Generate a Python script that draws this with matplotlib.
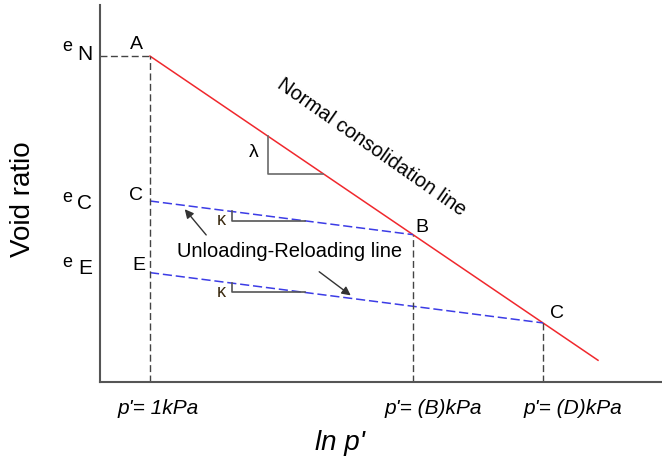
import matplotlib
matplotlib.use("Agg")
import matplotlib.pyplot as plt
import numpy as np

plt.rcParams['font.family'] = ['Liberation Sans', 'DejaVu Sans']

# ln p' positions of the three pressure states (p' = 1, B, D kPa)
lnp = [0.0, 2.63, 3.93]
tick_labels = ["p'= 1kPa", "p'= (B)kPa", "p'= (D)kPa"]
tick_shift = [0.08, 0.20, 0.30]
lnp_ncl_end = 4.48

# slopes of the normal consolidation line and the unloading-reloading lines
e_N = 3.26
lam = 0.679
kappa = 0.128

# void ratios along the NCL and on the swelling lines back at p' = 1kPa
e_B = e_N - lam * lnp[1]
e_D = e_N - lam * lnp[2]
e_C = e_B + kappa * lnp[1]
e_E = e_D + kappa * lnp[2]

fig = plt.figure(figsize=(6.62, 4.62), dpi=100)
ax = fig.add_axes([0.151, 0.173, 0.849, 0.816])
ax.set_xlim(-0.5, 5.12)
ax.set_ylim(0, 3.77)

# normal consolidation line
x_ncl = np.array([lnp[0], lnp_ncl_end])
ax.plot(x_ncl, e_N - lam * x_ncl, color='#f0282d', lw=1.1)

# unloading-reloading lines
ax.plot([lnp[0], lnp[1]], [e_C, e_B], color='#3c3ce6', lw=1.1, ls=(0, (6, 2.5)))
ax.plot([lnp[0], lnp[2]], [e_E, e_D], color='#3c3ce6', lw=1.1, ls=(0, (6, 2.5)))

# guide lines down to the axis
gd = dict(color='#444444', lw=1.0, ls=(0, (5, 2.5)))
ax.plot([-0.5, lnp[0]], [e_N, e_N], **gd)
ax.plot([lnp[0], lnp[0]], [0, e_N], **gd)
ax.plot([lnp[1], lnp[1]], [0, e_B], **gd)
ax.plot([lnp[2], lnp[2]], [0, e_D], **gd)

# slope triangles
tri = dict(color='#6a6a6a', lw=1.2)
x0, x1 = 1.18, 1.73
ax.plot([x0, x0, x1], [e_N - lam * x0, e_N - lam * x1, e_N - lam * x1], **tri)
ax.text(x0 - 0.14, e_N - lam * (x0 + x1) / 2 + 0.02, "λ", fontsize=14,
        ha='center', va='center')
k0, k1 = 0.82, 1.55
for e0 in [e_C, e_E]:
    ax.plot([k0, k0, k1], [e0 - kappa * k0, e0 - kappa * k1, e0 - kappa * k1],
            color='#555555', lw=1.2)
    ax.text(k0 - 0.105, e0 - kappa * k1, "κ", fontsize=13,
            ha='center', va='center', color='#3a2a10')

# point labels
lab = dict(fontsize=14, ha='center', va='center')
ax.text(-0.14, 3.38, "A", **lab)
ax.text(-0.135, 1.87, "C", **lab)
ax.text(-0.115, 1.165, "E", **lab)
ax.text(2.72, 1.55, "B", **lab)
ax.text(4.07, 0.69, "C", **lab)

# void ratio labels on the y axis
for lbl, ye, yl in [("N", 3.355, 3.275), ("C", 1.85, 1.785), ("E", 1.20, 1.135)]:
    ax.text(-0.825, ye, "e", fontsize=13, ha='center', va='center')
    ax.text(-0.65, yl, lbl, fontsize=15, ha='center', va='center')

ax.text(2.22, 2.35, "Normal consolidation line", fontsize=14.5, rotation=-35,
        ha='center', va='center', rotation_mode='anchor')
ax.text(1.40, 1.31, "Unloading-Reloading line", fontsize=14.5,
        ha='center', va='center')

arr = dict(arrowstyle='-|>', color='#333333', lw=1.0, mutation_scale=13)
ax.annotate("", xy=(0.33, 1.75), xytext=(0.58, 1.45), arrowprops=arr)
ax.annotate("", xy=(2.03, 0.85), xytext=(1.67, 1.12), arrowprops=arr)

# axes styling
for s in ['top', 'right']:
    ax.spines[s].set_visible(False)
for s in ['left', 'bottom']:
    ax.spines[s].set_color('#555555')
    ax.spines[s].set_linewidth(1.5)
ax.set_yticks([])
ax.set_xticks([])
for xv, dx, t in zip(lnp, tick_shift, tick_labels):
    ax.text(xv + dx, -0.26, t, fontsize=15, style='italic',
            ha='center', va='center')
ax.set_xlabel("ln p'", fontsize=20, style='italic')
ax.xaxis.set_label_coords(0.427, -0.127)
ax.set_ylabel("Void ratio", fontsize=20)
ax.yaxis.set_label_coords(-0.114, 0.485)

fig.savefig("out.png", dpi=100)
